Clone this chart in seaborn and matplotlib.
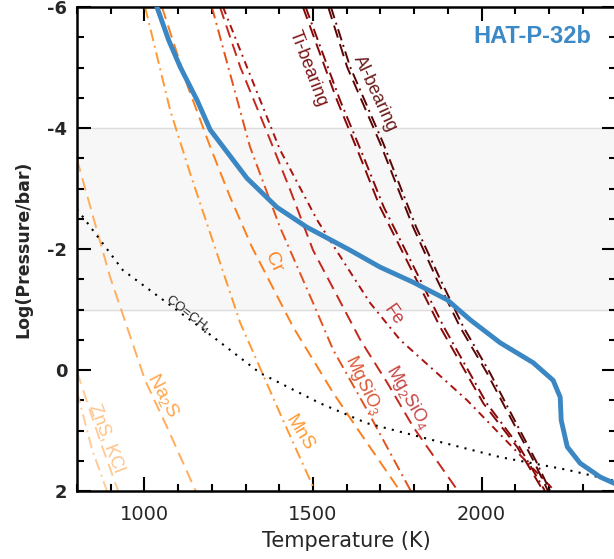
import matplotlib
matplotlib.use('Agg')
import matplotlib.pyplot as plt
from matplotlib.ticker import MultipleLocator
import seaborn as sns

sns.set_style('ticks')
plt.rcParams['font.family'] = ['DejaVu Sans']
plt.rcParams['axes.unicode_minus'] = False
plt.rcParams['mathtext.fontset'] = 'custom'
plt.rcParams['mathtext.rm'] = 'Liberation Sans'
plt.rcParams['mathtext.it'] = 'Liberation Sans:italic'

# ---- values: temperature (K) vs log10(P / bar) ----
# HAT-P-32b T-P profile
tp_T = [1037, 1072, 1106, 1156, 1195, 1304, 1393, 1482, 1610, 1699, 1797, 1898, 1966,
        2055, 2153, 2212, 2233, 2236, 2254, 2292, 2352, 2400]
tp_P = [-6.0, -5.45, -5.01, -4.46, -3.97, -3.17, -2.69, -2.36, -1.98, -1.70, -1.45, -1.16, -0.83,
        -0.45, -0.12, 0.17, 0.45, 0.83, 1.27, 1.54, 1.77, 1.89]

# CO = CH4 equal-abundance boundary
co_T = [800, 936, 1067, 1203, 1343, 1521, 1660, 1856, 2055, 2254, 2400]
co_P = [-2.66, -1.65, -1.11, -0.55, 0.05, 0.55, 0.88, 1.16, 1.44, 1.65, 1.84]

# condensation curves
znskcl_T = [800, 868, 922]
znskcl_P = [0.03, 1.16, 2.0]
znskcl2_T = [800, 845, 889]
znskcl2_P = [0.36, 1.32, 2.0]
na2s_T = [800, 898, 1002, 1070, 1152]
na2s_P = [-3.48, -1.54, 0.17, 0.98, 2.0]
mns_T = [1002, 1076, 1135, 1195, 1284, 1411, 1506]
mns_P = [-6.0, -4.30, -3.26, -2.26, -0.78, 0.83, 2.0]
cr_T = [1052, 1129, 1195, 1254, 1319, 1441, 1560, 1640, 1758]
cr_P = [-6.0, -4.68, -3.69, -2.86, -2.03, -0.71, 0.38, 1.04, 2.0]
mgsio3_T = [1200, 1313, 1402, 1500, 1560, 1660, 1790]
mgsio3_P = [-6.0, -3.69, -2.36, -1.11, -0.33, 0.66, 2.0]
mg2sio4_T = [1224, 1284, 1373, 1432, 1500, 1589, 1640, 1720, 1797, 1930]
mg2sio4_P = [-6.0, -5.01, -3.80, -2.98, -1.98, -1.04, -0.50, 0.21, 0.94, 2.0]
fe_T = [1233, 1402, 1512, 1601, 1669, 1758, 1957, 2217]
fe_P = [-6.0, -3.64, -2.48, -1.70, -1.11, -0.50, 0.50, 2.0]
ti_T = [1470, 1571, 1640, 1699, 1877, 2005, 2105, 2183]
ti_P = [-6.0, -4.46, -3.52, -2.69, -0.71, 0.55, 1.27, 2.0]
ti2_T = [1478, 1580, 1650, 1710, 1888, 2015, 2112, 2188]
al_T = [1545, 1601, 1699, 1797, 1868, 1936, 2016, 2085, 2153, 2197]
al_P = [-6.0, -5.01, -3.75, -2.36, -1.49, -0.71, 0.05, 0.78, 1.49, 2.0]
al2_T = [1553, 1610, 1708, 1806, 1878, 1946, 2025, 2093, 2160, 2203]

DASH = (0, (6.5, 3.5))
DASHDOT = (0, (6, 2.5, 1, 2.5))
FINEDD = (0, (4, 2.5, 1, 2.5))

curves = [
    (znskcl_T, znskcl_P, '#ffcb96', DASH),
    (znskcl2_T, znskcl2_P, '#ffcb96', DASHDOT),
    (na2s_T, na2s_P, '#ffae5e', DASH),
    (mns_T, mns_P, '#ff9a33', DASHDOT),
    (cr_T, cr_P, '#fb7f1c', DASH),
    (mgsio3_T, mgsio3_P, '#e4521b', DASHDOT),
    (mg2sio4_T, mg2sio4_P, '#c5281c', DASH),
    (fe_T, fe_P, '#a8120f', FINEDD),
    (ti_T, ti_P, '#860808', DASH),
    (ti2_T, ti_P, '#860808', DASHDOT),
    (al_T, al_P, '#5a0505', DASH),
    (al2_T, al_P, '#5a0505', DASHDOT),
]

# label text, T, logP, rotation, colour, size
labels = [
    ('ZnS, KCl', 886, 1.12, -69, '#ffc48a', 13),
    ('Na$_\\mathrm{2}$S', 1055, 0.41, -62, '#ffa64d', 14),
    ('MnS', 1459, 1.04, -58, '#ff9a33', 13.5),
    ('Cr', 1382, -1.77, -65, '#fb8526', 14),
    ('MgSiO$_\\mathrm{3}$', 1649, 0.25, -64, '#dc5a36', 13),
    ('Mg$_\\mathrm{2}$SiO$_\\mathrm{4}$', 1782, 0.46, -60, '#c84646', 13),
    ('Fe', 1738, -0.91, -55, '#c43c3c', 13),
    ('Ti-bearing', 1485, -4.99, -69, '#7a1414', 13),
    ('Al-bearing', 1684, -4.56, -65, '#6b1c1c', 13),
]

fig = plt.figure(figsize=(6.14, 5.59), dpi=100)
ax = fig.add_axes([77 / 614, 68 / 559, 539.5 / 614, 484 / 559])

# photosphere band
ax.axhspan(-4, -1, color='#f7f7f7', zorder=0)
for yy in (-4, -1):
    ax.axhline(yy, color='#dddddd', lw=1, zorder=0.5)

for T, P, c, ls in curves:
    sns.lineplot(x=T, y=P, sort=False, estimator=None, color=c, linestyle=ls,
                 lw=1.4, ax=ax)

sns.lineplot(x=co_T, y=co_P, sort=False, estimator=None, color='black',
             linestyle=(0, (1, 3)), lw=1.5, ax=ax)
sns.lineplot(x=tp_T, y=tp_P, sort=False, estimator=None, color='#3a87c3',
             lw=3.5, ax=ax, zorder=5, solid_joinstyle='round', solid_capstyle='round')

for txt, x, y, rot, c, fs in labels:
    ax.text(x, y, txt, rotation=rot, rotation_mode='anchor', ha='center', va='center',
            color=c, fontsize=fs, family='Liberation Sans')
ax.text(1129, -0.91, 'CO=CH$_\\mathrm{4}$', rotation=-38, rotation_mode='anchor',
        ha='center', va='center', fontsize=9.5, family='Liberation Sans')
ax.text(2150, -5.52, 'HAT-P-32b', color='#3b89c6', fontsize=17, fontweight='bold',
        ha='center', va='center', family='Liberation Sans')

ax.set_xlim(800, 2400)
ax.set_ylim(2, -6)
ax.xaxis.set_major_locator(MultipleLocator(500))
ax.xaxis.set_minor_locator(MultipleLocator(100))
ax.yaxis.set_major_locator(MultipleLocator(2))
ax.yaxis.set_minor_locator(MultipleLocator(0.5))
ax.tick_params(which='both', direction='in', top=True, right=True, width=1.5, color='black')
ax.tick_params(which='major', length=10)
ax.tick_params(which='minor', length=5)
ax.tick_params(axis='x', labelsize=14, pad=10)
ax.tick_params(axis='y', labelsize=13, pad=7)
for lab in ax.get_yticklabels():
    lab.set_fontweight('bold')
for sp in ax.spines.values():
    sp.set_linewidth(1.8)
    sp.set_color('black')

ax.set_xlabel('Temperature (K)', fontsize=15)
ax.set_ylabel('Log(Pressure/bar)', fontsize=12.5, fontweight='bold')
ax.xaxis.set_label_coords(0.5, -0.082)
ax.yaxis.set_label_coords(-0.083, 0.5)
ax.xaxis.label.set_va('top')

fig.savefig('out.png', dpi=100)
